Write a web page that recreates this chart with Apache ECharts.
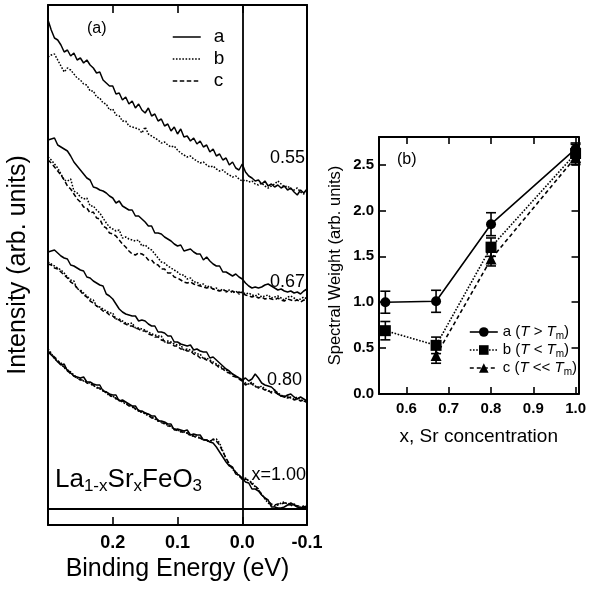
<!DOCTYPE html>
<html><head><meta charset="utf-8">
<script src="https://cdn.jsdelivr.net/npm/echarts@6/dist/echarts.min.js"></script>
<style>html,body{margin:0;padding:0;background:#fff}#c{width:589px;height:591px}</style>
</head><body><div id="c"></div>
<script>
// ---------- Panel (a): photoemission spectra ----------
const energy = [
0.300,0.295,0.290,0.285,0.280,0.275,0.270,0.265,0.260,0.255,
0.250,0.245,0.240,0.235,0.230,0.225,0.220,0.215,0.210,0.205,
0.200,0.195,0.190,0.185,0.180,0.175,0.170,0.165,0.160,0.155,
0.150,0.145,0.140,0.135,0.130,0.125,0.120,0.115,0.110,0.105,
0.100,0.095,0.090,0.085,0.080,0.075,0.070,0.065,0.060,0.055,
0.050,0.045,0.040,0.035,0.030,0.025,0.020,0.015,0.010,0.005,
0.000,-0.005,-0.010,-0.015,-0.020,-0.025,-0.030,-0.035,-0.040,-0.045,
-0.050,-0.055,-0.060,-0.065,-0.070,-0.075,-0.080,-0.085,-0.090,-0.095,
-0.100];

const int055a = [
489,479,471,469,464,457,459,453,456,449,
451,446,449,444,441,436,437,429,426,423,
423,415,416,409,412,405,408,401,405,399,
396,401,393,395,388,390,383,385,378,382,
375,380,372,373,368,371,365,368,362,364,
357,360,353,355,349,351,344,347,341,339,
345,337,333,331,328,329,325,328,323,325,
322,324,321,323,319,321,317,314,319,316,
320];
const int055b = [
452,454,455,449,443,437,441,439,435,431,
429,425,424,418,418,412,411,406,405,399,
400,394,393,388,388,383,382,381,380,376,
382,375,373,371,369,366,367,364,362,363,
359,356,354,352,353,350,348,346,347,344,
342,343,340,338,339,336,334,332,333,330,
328,329,327,328,325,324,326,323,321,323,
325,328,325,322,323,320,319,321,317,315,
318];
const int067a = [
369,370,371,364,362,360,358,353,347,343,
339,335,331,329,322,321,319,318,316,313,
311,306,308,303,301,299,299,293,293,290,
287,283,283,276,276,275,272,270,268,265,
263,264,258,259,260,257,255,255,249,252,
248,245,243,243,237,237,235,233,235,232,
230,226,223,221,222,221,222,224,225,223,
221,219,220,218,217,218,216,217,215,218,
220];
const int067b = [
352,349,345,341,335,329,328,330,318,316,
312,310,311,303,303,299,296,291,286,282,
280,278,279,271,272,270,269,268,269,263,
264,261,259,255,251,247,246,243,241,239,
237,234,234,230,231,227,227,224,225,222,
223,220,221,218,220,217,219,216,218,215,
217,215,216,214,213,215,212,213,214,211,
212,213,211,209,212,213,211,209,210,212,
210];
const int067c = [
349,346,342,338,334,329,323,320,315,310,
307,302,301,296,297,291,290,283,281,276,
275,273,269,265,262,258,255,254,256,255,
253,249,249,245,244,240,240,236,236,232,
231,229,227,226,227,225,224,223,222,221,
222,220,219,218,219,218,217,218,216,217,
216,214,213,212,213,211,212,210,211,210,
209,211,209,208,210,209,208,209,207,209,
208];
const int080a = [
257,258,259,256,253,251,250,244,243,241,
239,238,232,231,228,226,224,223,215,213,
210,205,200,197,195,194,193,193,188,189,
188,185,183,183,177,177,176,173,173,167,
167,165,164,163,164,159,160,158,157,157,
151,152,149,146,143,140,138,135,133,131,
129,131,128,130,135,131,126,124,123,122,
119,115,113,112,114,115,112,110,112,110,
108];
const int080b = [
247,245,243,241,239,236,232,229,228,220,
219,216,213,210,209,203,202,200,198,196,
196,190,190,188,186,185,186,181,181,180,
179,177,175,174,173,173,167,168,167,165,
164,164,159,160,159,157,155,155,150,151,
149,147,145,143,141,139,137,135,133,131,
129,126,125,127,123,121,123,120,118,117,
119,116,114,112,113,111,110,112,109,108,
107];
const int080c = [
245,244,241,240,237,234,231,227,225,221,
218,214,212,208,206,203,201,198,197,194,
193,190,189,186,185,183,183,181,180,178,
178,175,174,172,172,169,168,166,166,163,
163,160,160,158,158,155,154,151,151,149,
148,145,144,141,140,137,136,133,132,130,
128,124,126,125,122,122,121,119,119,116,
117,115,113,113,111,112,109,110,108,109,
106];
const int100a = [
157,154,151,147,144,145,138,136,133,132,
131,132,127,127,125,124,124,118,117,115,
114,114,108,109,107,105,103,103,98,98,
96,95,93,93,88,88,87,85,85,79,
80,79,78,79,74,75,74,74,69,69,
67,66,62,57,52,47,43,42,35,34,
31,27,26,20,20,18,14,11,9,2,
2,1,1,2,4,6,4,2,1,2,
1];
const int100b = [
160,156,150,148,146,141,139,137,134,131,
130,128,127,126,123,122,120,119,116,113,
113,110,109,107,105,104,102,100,98,97,
95,93,92,90,88,87,85,84,82,80,
79,77,77,76,74,73,73,71,70,68,
68,69,70,66,58,50,44,40,36,33,
30,31,28,27,22,19,15,10,6,4,
3,4,6,7,5,3,5,3,2,3,
2];
const int100c = [
158,155,152,149,144,142,140,135,133,131,
129,129,126,125,124,121,121,118,117,114,
112,111,108,108,106,103,103,100,99,96,
96,94,91,91,89,86,86,83,83,80,
78,78,76,76,73,73,71,71,69,69,
67,70,68,64,57,51,45,41,37,34,
29,30,29,25,23,20,14,11,8,5,
4,5,5,6,6,4,4,3,3,2,
3];
const spectrumLabels = ['0.55','0.67','0.80','x=1.00'];
const xTickLabelsA = ['0.2','0.1','0.0','-0.1'];

// ---------- Panel (b): spectral weight ----------
const concentration = [0.55, 0.67, 0.80, 1.00];
const weightA = [1.00, 1.01, 1.85, 2.67];
const errorA  = [0.12, 0.12, 0.125, 0.065];
const weightB = [0.69, 0.53, 1.60, 2.62];
const errorB  = [0.10, 0.09, 0.10, 0.10];
const concentrationC = [0.67, 0.80, 1.00];
const weightC = [0.42, 1.47, 2.58];
const errorC  = [0.085, 0.075, 0.08];
const xTicksB = [0.6, 0.7, 0.8, 0.9, 1.0];
const yTicksB = [0, 0.5, 1.0, 1.5, 2.0, 2.5];

const FF = '"Liberation Sans", Arial, Helvetica, sans-serif';
const BLACK = '#000';
const DOT = [1.6, 1.6], DASH = [4.5, 2.5];

const chart = echarts.init(document.getElementById('c'), null, {renderer: 'canvas'});

function spec(name, arr, dash) {
  return {
    type: 'line', name: name, xAxisIndex: 0, yAxisIndex: 0,
    data: energy.map((e, i) => [e, arr[i]]),
    symbol: 'none', showSymbol: false, silent: true,
    lineStyle: {color: BLACK, width: 1.5, type: dash || 'solid'},
    itemStyle: {color: BLACK}, z: 3
  };
}

const seriesA = [
  spec('a', int055a), spec('b', int055b, DOT),
  spec('a', int067a), spec('b', int067b, DOT), spec('c', int067c, DASH),
  spec('a', int080a), spec('b', int080b, DOT), spec('c', int080c, DASH),
  spec('a', int100a), spec('b', int100b, DOT), spec('c', int100c, DASH)
];
seriesA[0].markLine = {
  symbol: 'none', silent: true, animation: false, label: {show: false},
  lineStyle: {color: BLACK, width: 1.8, type: 'solid'},
  emphasis: {disabled: true},
  data: [{xAxis: 0}, {yAxis: 0}]
};

function errRender(params, api) {
  const x = api.value(0), lo = api.value(1), hi = api.value(2);
  const a = api.coord([x, lo]), b = api.coord([x, hi]);
  const w = 5, st = {stroke: BLACK, lineWidth: 1.6};
  return {type: 'group', children: [
    {type: 'line', shape: {x1: a[0], y1: a[1], x2: b[0], y2: b[1]}, style: st},
    {type: 'line', shape: {x1: a[0]-w, y1: a[1], x2: a[0]+w, y2: a[1]}, style: st},
    {type: 'line', shape: {x1: b[0]-w, y1: b[1], x2: b[0]+w, y2: b[1]}, style: st}
  ]};
}
function errData(xs, ys, es) { return xs.map((x, i) => [x, ys[i] - es[i], ys[i] + es[i]]); }

const nameA = 'a (T > Tm)', nameB = 'b (T < Tm)', nameC = 'c (T << Tm)';
const legendRich = {};
legendRich[nameA] = '{n|a (}{i|T}{n| > }{i|T}{s|m}{n|)}';
legendRich[nameB] = '{n|b (}{i|T}{n| < }{i|T}{s|m}{n|)}';
legendRich[nameC] = '{n|c (}{i|T}{n| << }{i|T}{s|m}{n|)}';

const seriesB = [
  {type: 'custom', name: 'errA', xAxisIndex: 2, yAxisIndex: 2, renderItem: errRender,
   encode: {x: 0, y: [1, 2]}, data: errData(concentration, weightA, errorA), clip: false, silent: true, z: 4},
  {type: 'custom', name: 'errB', xAxisIndex: 2, yAxisIndex: 2, renderItem: errRender,
   encode: {x: 0, y: [1, 2]}, data: errData(concentration, weightB, errorB), clip: false, silent: true, z: 4},
  {type: 'custom', name: 'errC', xAxisIndex: 2, yAxisIndex: 2, renderItem: errRender,
   encode: {x: 0, y: [1, 2]}, data: errData(concentrationC, weightC, errorC), clip: false, silent: true, z: 4},
  {type: 'line', name: nameA, xAxisIndex: 2, yAxisIndex: 2,
   data: concentration.map((x, i) => [x, weightA[i]]),
   symbol: 'circle', symbolSize: 10, itemStyle: {color: BLACK},
   lineStyle: {color: BLACK, width: 1.6, type: 'solid'}, silent: true, z: 5},
  {type: 'line', name: nameB, xAxisIndex: 2, yAxisIndex: 2,
   data: concentration.map((x, i) => [x, weightB[i]]),
   symbol: 'rect', symbolSize: 11, itemStyle: {color: BLACK},
   lineStyle: {color: BLACK, width: 1.6, type: [1.6, 1.6]}, silent: true, z: 5},
  {type: 'line', name: nameC, xAxisIndex: 2, yAxisIndex: 2,
   data: concentrationC.map((x, i) => [x, weightC[i]]),
   symbol: 'triangle', symbolSize: 11, itemStyle: {color: BLACK},
   lineStyle: {color: BLACK, width: 1.6, type: [4, 3]}, silent: true, z: 5}
];

const axLine = {show: true, onZero: false, lineStyle: {color: BLACK, width: 2}};
const noTick = {show: false};
const tickIn = (len) => ({show: true, inside: true, length: len, lineStyle: {color: BLACK, width: 1.6}});

const option = {
  backgroundColor: '#fff',
  animation: false,
  grid: [
    {left: 48, top: 5, width: 259, height: 520, containLabel: false},
    {left: 379, top: 137, width: 203, height: 257, containLabel: false}
  ],
  xAxis: [
    {gridIndex: 0, type: 'value', min: -0.1, max: 0.3, interval: 0.1, inverse: true, position: 'bottom',
     axisLine: axLine, axisTick: tickIn(8), splitLine: {show: false},
     axisLabel: {margin: 9, fontSize: 18, fontWeight: 'bold', color: BLACK, fontFamily: FF,
       formatter: v => { const s = v.toFixed(1); return xTickLabelsA.indexOf(s) >= 0 ? s : ''; }},
     name: 'Binding Energy (eV)', nameLocation: 'middle', nameGap: 24,
     nameTextStyle: {fontSize: 25, color: BLACK, fontFamily: FF}},
    {gridIndex: 0, type: 'value', min: -0.1, max: 0.3, interval: 0.1, inverse: true, position: 'top',
     axisLine: axLine, axisTick: tickIn(8), splitLine: {show: false}, axisLabel: {show: false}},
    {gridIndex: 1, type: 'value', min: 0.535, max: 1.007, splitNumber: 5, position: 'bottom',
     axisLine: axLine, axisTick: Object.assign(tickIn(7), {customValues: xTicksB}), splitLine: {show: false},
     axisLabel: {margin: 7, fontSize: 15, fontWeight: 'bold', color: BLACK, fontFamily: FF,
       customValues: xTicksB, formatter: v => v.toFixed(1)},
     name: 'x, Sr concentration', nameLocation: 'middle', nameGap: 33,
     nameTextStyle: {fontSize: 19, color: BLACK, fontFamily: FF}},
    {gridIndex: 1, type: 'value', min: 0.535, max: 1.007, splitNumber: 5, position: 'top',
     axisLine: axLine, axisTick: Object.assign(tickIn(7), {customValues: xTicksB}), splitLine: {show: false},
     axisLabel: {show: false}}
  ],
  yAxis: [
    {gridIndex: 0, type: 'value', min: -16, max: 504, position: 'left',
     axisLine: axLine, axisTick: noTick, axisLabel: {show: false}, splitLine: {show: false},
     name: 'Intensity (arb. units)', nameLocation: 'middle', nameGap: 17,
     nameTextStyle: {fontSize: 25, color: BLACK, fontFamily: FF}},
    {gridIndex: 0, type: 'value', min: -16, max: 504, position: 'right',
     axisLine: axLine, axisTick: noTick, axisLabel: {show: false}, splitLine: {show: false}},
    {gridIndex: 1, type: 'value', min: 0, max: 2.8, interval: 0.5, position: 'left',
     axisLine: axLine, axisTick: Object.assign(tickIn(7), {customValues: yTicksB}), splitLine: {show: false},
     axisLabel: {margin: 5, fontSize: 15, fontWeight: 'bold', color: BLACK, fontFamily: FF,
       customValues: yTicksB, formatter: v => v.toFixed(1)},
     name: 'Spectral Weight (arb. units)', nameLocation: 'middle', nameGap: 35,
     nameTextStyle: {fontSize: 16.5, color: BLACK, fontFamily: FF}},
    {gridIndex: 1, type: 'value', min: 0, max: 2.8, interval: 0.5, position: 'right',
     axisLine: axLine, axisTick: Object.assign(tickIn(7), {customValues: yTicksB}), splitLine: {show: false},
     axisLabel: {show: false}}
  ],
  legend: [
    {data: ['a', 'b', 'c'], orient: 'vertical', left: 172, top: 26, padding: 0, itemWidth: 28, itemHeight: 12,
     itemGap: 0, selectedMode: false, itemStyle: {opacity: 0}, lineStyle: {width: 1.5},
     textStyle: {fontSize: 19, lineHeight: 22, color: BLACK, fontFamily: FF, padding: [0, 0, 0, 8]}},
    {data: [nameA, nameB, nameC], orient: 'vertical', left: 469, top: 323, padding: 0, itemWidth: 28, itemHeight: 12,
     itemGap: 0, selectedMode: false, lineStyle: {width: 1.6},
     formatter: n => legendRich[n],
     textStyle: {fontSize: 15, lineHeight: 18, color: BLACK, fontFamily: FF,
       rich: {
         n: {fontSize: 15, lineHeight: 18, color: BLACK, fontFamily: FF},
         i: {fontSize: 15, lineHeight: 18, color: BLACK, fontFamily: FF, fontStyle: 'italic'},
         s: {fontSize: 10, lineHeight: 10, color: BLACK, fontFamily: FF, verticalAlign: 'bottom'}
       }}}
  ],
  graphic: [
    {type: 'text', x: 87, y: 29, silent: true,
     style: {text: '(a)', fontSize: 16, fontFamily: FF, fill: BLACK, verticalAlign: 'middle'}},
    {type: 'text', x: 397, y: 160, silent: true,
     style: {text: '(b)', fontSize: 16, fontFamily: FF, fill: BLACK, verticalAlign: 'middle'}},
    {type: 'text', x: 305, y: 158, silent: true,
     style: {text: spectrumLabels[0], fontSize: 18, fontFamily: FF, fill: BLACK, align: 'right', verticalAlign: 'middle'}},
    {type: 'text', x: 305, y: 282, silent: true,
     style: {text: spectrumLabels[1], fontSize: 18, fontFamily: FF, fill: BLACK, align: 'right', verticalAlign: 'middle'}},
    {type: 'text', x: 302, y: 380, silent: true,
     style: {text: spectrumLabels[2], fontSize: 18, fontFamily: FF, fill: BLACK, align: 'right', verticalAlign: 'middle'}},
    {type: 'text', x: 306, y: 475, silent: true,
     style: {text: spectrumLabels[3], fontSize: 18, fontFamily: FF, fill: BLACK, align: 'right', verticalAlign: 'middle'}},
    {type: 'text', x: 55, y: 465, silent: true,
     style: {text: '{n|La}{s|1-x}{n|Sr}{s|x}{n|FeO}{s|3}', fontFamily: FF, fill: BLACK, verticalAlign: 'top',
       rich: {
         n: {fontSize: 26, lineHeight: 30, fontFamily: FF, fill: BLACK},
         s: {fontSize: 17, lineHeight: 14, fontFamily: FF, fill: BLACK, verticalAlign: 'bottom'}
       }}}
  ],
  series: seriesA.concat(seriesB)
};
chart.setOption(option);
</script>
</body></html>
